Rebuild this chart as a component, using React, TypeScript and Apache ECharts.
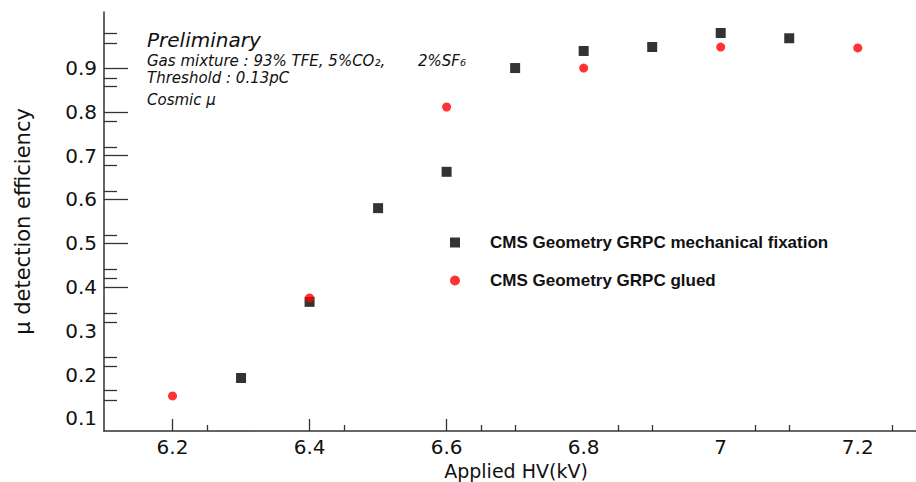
import React, { useEffect, useRef } from "react";
import * as echarts from "echarts";

// Data
const hvMechanical = [6.3, 6.4, 6.5, 6.6, 6.7, 6.8, 6.9, 7.0, 7.1];
const effMechanical = [0.192, 0.366, 0.58, 0.663, 0.9, 0.939, 0.948, 0.98, 0.968];
const hvGlued = [6.2, 6.4, 6.6, 6.8, 7.0, 7.2];
const effGlued = [0.151, 0.375, 0.811, 0.9, 0.948, 0.946];

const seriesNames = ["CMS Geometry GRPC mechanical fixation", "CMS Geometry GRPC glued"];

// Axis ticks / labels
const xLabelValues = [6.2, 6.4, 6.6, 6.8, 7.0, 7.2];
const xMajorTicks = [6.2, 6.4, 6.6];
const xMinorTicks = [6.25, 6.45, 6.65, 6.7, 6.85, 6.9, 7.05, 7.1, 7.25];
const yLabelValues = [0.1, 0.2, 0.3, 0.4, 0.5, 0.6, 0.7, 0.8, 0.9];
const yMajorTicks = [0.4, 0.5, 0.6, 0.7, 0.8, 0.9];
const yMinorTicks = [
  0.98, 0.957, 0.877, 0.859, 0.779, 0.72, 0.679, 0.619, 0.519, 0.441, 0.421, 0.341,
  0.32, 0.24, 0.22, 0.163, 0.142,
];

const X_MIN = 6.1;
const X_MAX = 7.285;
const Y_MIN = 0.071;
const Y_MAX = 1.028;

const FONT = "DejaVu Sans";
const AXIS_COLOR = "#333";

export default function App() {
  const ref = useRef<HTMLDivElement>(null);

  useEffect(() => {
    if (!ref.current) return;
    const chart = echarts.init(ref.current, null, { renderer: "svg" });

    const gridRect = {
      left: 104,
      top: 12,
      right: 0,
      bottom: 51,
      containLabel: false,
      outerBoundsMode: "none",
    };

    const option: any = {
      animation: false,
      backgroundColor: "#fff",
      grid: [gridRect, { ...gridRect }],
      legend: {
        orient: "vertical",
        left: 445,
        top: 229,
        itemWidth: 10,
        itemHeight: 10,
        itemGap: 21,
        data: seriesNames,
        textStyle: {
          fontFamily: "Liberation Sans",
          fontWeight: "bold",
          fontSize: 17,
          color: "#111",
          padding: [0, 0, 0, 25],
        },
      },
      xAxis: [
        {
          type: "value",
          gridIndex: 0,
          min: X_MIN,
          max: X_MAX,
          position: "bottom",
          axisLine: { show: true, onZero: false, lineStyle: { color: AXIS_COLOR, width: 1.5 } },
          axisTick: {
            show: true,
            inside: true,
            length: 12,
            customValues: xMajorTicks,
            lineStyle: { color: AXIS_COLOR, width: 1.3 },
          },
          axisLabel: {
            customValues: xLabelValues,
            fontFamily: FONT,
            fontSize: 20,
            color: "#111",
            margin: 6,
          },
          splitLine: { show: false },
          name: "Applied HV(kV)",
          nameLocation: "middle",
          nameGap: 30,
          nameMoveOverlap: false,
          nameTextStyle: { fontFamily: FONT, fontSize: 19, color: "#111", padding: [0, 0, 0, 12] },
        },
        {
          type: "value",
          gridIndex: 1,
          min: X_MIN,
          max: X_MAX,
          position: "bottom",
          axisLine: { show: false, onZero: false },
          axisTick: {
            show: true,
            inside: true,
            length: 6,
            customValues: xMinorTicks,
            lineStyle: { color: AXIS_COLOR, width: 1.3 },
          },
          axisLabel: { show: false },
          splitLine: { show: false },
        },
      ],
      yAxis: [
        {
          type: "value",
          gridIndex: 0,
          min: Y_MIN,
          max: Y_MAX,
          position: "left",
          axisLine: { show: true, onZero: false, lineStyle: { color: AXIS_COLOR, width: 1.5 } },
          axisTick: {
            show: true,
            inside: true,
            length: 24,
            customValues: yMajorTicks,
            lineStyle: { color: AXIS_COLOR, width: 1.3 },
          },
          axisLabel: {
            customValues: yLabelValues,
            fontFamily: FONT,
            fontSize: 20,
            color: "#111",
            margin: 7,
          },
          splitLine: { show: false },
          name: "μ detection efficiency",
          nameLocation: "middle",
          nameGap: 71,
          nameMoveOverlap: false,
          nameTextStyle: { fontFamily: FONT, fontSize: 21, color: "#111" },
        },
        {
          type: "value",
          gridIndex: 1,
          min: Y_MIN,
          max: Y_MAX,
          position: "left",
          axisLine: { show: false, onZero: false },
          axisTick: {
            show: true,
            inside: true,
            length: 13,
            customValues: yMinorTicks,
            lineStyle: { color: AXIS_COLOR, width: 1.3 },
          },
          axisLabel: { show: false },
          splitLine: { show: false },
        },
      ],
      series: [
        {
          name: seriesNames[0],
          type: "scatter",
          xAxisIndex: 0,
          yAxisIndex: 0,
          symbol: "rect",
          symbolSize: 10,
          itemStyle: { color: "#000" },
          data: hvMechanical.map((x, i) => [x, effMechanical[i]]),
        },
        {
          name: seriesNames[1],
          type: "scatter",
          xAxisIndex: 0,
          yAxisIndex: 0,
          symbol: "circle",
          symbolSize: 9,
          itemStyle: { color: "#ff0000" },
          data: hvGlued.map((x, i) => [x, effGlued[i]]),
        },
      ],
      graphic: [
        {
          type: "text",
          x: 147,
          y: 40,
          style: {
            text: "Preliminary",
            fontFamily: FONT,
            fontStyle: "italic",
            fontSize: 20,
            fill: "#111",
            verticalAlign: "middle",
          },
        },
        {
          type: "text",
          x: 147,
          y: 61,
          style: {
            text: "Gas mixture : 93% TFE, 5%CO₂,",
            fontFamily: FONT,
            fontStyle: "italic",
            fontSize: 15,
            fill: "#111",
            verticalAlign: "middle",
          },
        },
        {
          type: "text",
          x: 418,
          y: 61,
          style: {
            text: "2%SF₆",
            fontFamily: FONT,
            fontStyle: "italic",
            fontSize: 15,
            fill: "#111",
            verticalAlign: "middle",
          },
        },
        {
          type: "text",
          x: 147,
          y: 78,
          style: {
            text: "Threshold : 0.13pC",
            fontFamily: FONT,
            fontStyle: "italic",
            fontSize: 15,
            fill: "#111",
            verticalAlign: "middle",
          },
        },
        {
          type: "text",
          x: 147,
          y: 100,
          style: {
            text: "Cosmic μ",
            fontFamily: FONT,
            fontStyle: "italic",
            fontSize: 15,
            fill: "#111",
            verticalAlign: "middle",
          },
        },
      ],
    };

    chart.setOption(option);
    return () => chart.dispose();
  }, []);

  return (
    <div
      ref={ref}
      style={{ position: "absolute", left: 0, top: 0, width: 916, height: 482 }}
    />
  );
}
